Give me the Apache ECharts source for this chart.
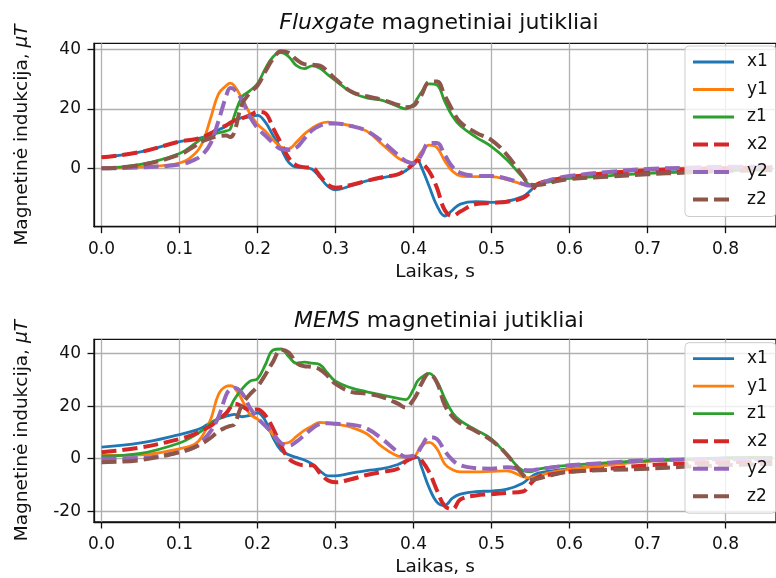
<!DOCTYPE html>
<html>
<head>
<meta charset="utf-8">
<script src="https://cdn.jsdelivr.net/npm/echarts@6/dist/echarts.min.js"></script>
<style>
  html, body { margin: 0; padding: 0; background: #fff; }
  #chart { width: 776px; height: 578px; }
</style>
</head>
<body>
<div id="chart"></div>
<script>
// Sample times, s
const times = [0, 0.05, 0.1, 0.12, 0.13, 0.14, 0.15, 0.16, 0.165, 0.17, 0.18, 0.19, 0.2,
  0.21, 0.22, 0.23, 0.24, 0.25, 0.26, 0.27, 0.28, 0.29, 0.3, 0.32, 0.34, 0.36, 0.38, 0.39, 0.4,
  0.405, 0.41, 0.42, 0.43, 0.44, 0.45, 0.46, 0.48, 0.5, 0.52, 0.54, 0.55, 0.56, 0.58, 0.6,
  0.65, 0.7, 0.75, 0.8, 0.86];

// Fluxgate sensors, µT
const fluxX1 = [3.7, 5.5, 9.0, 9.8, 10.4, 11.5, 12.9, 14.2, 15.2, 16.0, 17.0, 17.3, 17.8,
  15.5, 11.0, 6.7, 2.0, 0.4, 0.3, -0.3, -3.0, -6.0, -7.2, -5.8, -4.2, -3.2, -2.0, -0.8, 1.5,
  2.8, 0.5, -6.0, -12.5, -16.0, -14.0, -12.0, -11.2, -11.4, -11.0, -9.5, -7.5, -5.0, -3.8, -2.8,
  -1.5, -0.6, -0.2, 0, 0.2];
const fluxY1 = [0, 0.5, 1.8, 5.0, 9.0, 17.0, 25.0, 27.8, 28.6, 27.8, 23.5, 18.5, 14.8,
  12.5, 9.5, 7.2, 6.6, 8.8, 11.5, 13.5, 15.0, 15.5, 15.2, 14.3, 12.5, 8.0, 3.5, 2.2, 1.8,
  3.5, 5.5, 7.8, 7.0, 2.5, -1.0, -2.5, -2.8, -2.8, -3.8, -5.3, -5.9, -5.0, -3.6, -2.8,
  -1.4, -0.4, 0.1, 0.3, 0.5];
const fluxZ1 = [0, 1.3, 5.0, 8.4, 10.2, 11.3, 11.9, 12.6, 13.2, 17.5, 24.0, 26.0, 28.5,
  33.5, 37.5, 38.9, 37.5, 34.5, 33.5, 34.4, 33.6, 31.5, 29.5, 25.6, 23.7, 22.8, 20.8, 20.0, 21.5,
  23.5, 25.5, 28.4, 28.0, 22.5, 17.5, 14.3, 10.5, 7.3, 2.8, -3.0, -5.5, -5.3, -4.2, -3.4,
  -2.5, -1.7, -1.2, -0.8, -0.5];
const fluxX2 = [3.7, 5.5, 9.0, 9.8, 10.5, 11.8, 13.3, 14.5, 15.3, 16.0, 16.8, 17.8, 19.0,
  18.5, 13.5, 8.5, 3.5, 1.0, 0.4, 0.2, -2.5, -5.5, -6.5, -5.6, -4.2, -3.0, -2.0, -0.5, 1.5,
  2.6, 2.0, -1.0, -6.5, -14.0, -16.0, -14.5, -12.0, -11.6, -11.2, -10.0, -8.0, -5.2, -3.8, -2.9,
  -1.6, -0.7, -0.3, 0, 0.2];
const fluxY2 = [0, 0.3, 1.3, 3.0, 4.8, 8.5, 16.0, 24.5, 27.0, 26.5, 23.0, 17.5, 13.5,
  11.0, 8.5, 6.5, 6.2, 7.0, 10.0, 12.8, 14.3, 15.0, 15.1, 14.2, 12.6, 9.0, 4.5, 2.5, 1.7,
  2.5, 4.5, 8.5, 8.5, 4.5, 0.5, -1.5, -2.5, -2.6, -3.5, -5.2, -5.8, -5.2, -3.6, -2.6,
  -1.2, -0.2, 0.2, 0.5, 0.5];
const fluxZ2 = [0, 1.1, 4.6, 7.6, 9.2, 10.2, 10.8, 11.0, 10.5, 12.0, 21.5, 25.3, 27.8,
  32.5, 36.8, 39.3, 38.8, 36.5, 35.0, 34.8, 34.5, 32.5, 30.0, 25.8, 24.2, 23.0, 21.3, 20.5, 21.0,
  22.5, 24.5, 29.0, 29.2, 24.5, 19.5, 15.5, 12.0, 9.5, 4.5, -2.5, -5.5, -5.6, -4.5, -3.6,
  -2.8, -2.0, -1.4, -0.9, -0.6];

// MEMS sensors, µT
const memsX1 = [4.4, 6.0, 9.2, 10.8, 12.0, 13.8, 15.2, 16.2, 16.6, 16.9, 16.0, 16.5, 17.5,
  14.5, 8.0, 3.2, 1.5, 0.5, -0.5, -2.0, -4.6, -6.5, -6.5, -5.5, -4.5, -3.8, -2.2, -0.8, 0.2,
  0.5, -3.0, -11.0, -16.5, -17.8, -15.0, -13.5, -12.5, -12.3, -11.6, -9.3, -7.0, -5.5, -4.5, -3.8,
  -2.2, -0.8, -0.2, 0.3, 0.5];
const memsY1 = [1.3, 1.5, 3.8, 5.6, 9.0, 15.0, 24.5, 27.6, 27.8, 27.2, 22.5, 17.0, 15.1,
  12.5, 9.0, 5.8, 6.2, 8.5, 10.8, 12.5, 13.8, 13.6, 13.2, 12.0, 9.5, 4.5, 1.0, 0.6, 0.6,
  2.5, 5.0, 6.2, 3.8, -2.0, -4.2, -5.0, -5.0, -4.8, -4.6, -6.8, -7.3, -6.5, -5.0, -4.0,
  -2.4, -1.0, -0.3, 0.2, 0.4];
const memsZ1 = [1.0, 2.0, 6.0, 9.0, 11.0, 13.5, 15.3, 17.0, 19.5, 22.5, 26.5, 29.5, 30.5,
  35.8, 41.4, 41.8, 38.9, 36.4, 36.8, 36.4, 35.8, 32.6, 29.5, 27.0, 25.5, 24.2, 23.0, 22.5, 26.5,
  29.5, 31.0, 32.5, 29.5, 23.0, 17.5, 14.5, 11.0, 7.5, 1.5, -4.5, -5.0, -4.0, -3.0, -2.5,
  -1.5, -0.8, -0.2, 0.2, 0.4];
const memsX2 = [2.5, 4.3, 7.5, 9.5, 11.0, 12.5, 15.0, 17.5, 19.5, 21.0, 20.0, 18.5, 18.8,
  16.5, 11.5, 5.0, 0.0, -1.8, -2.5, -2.5, -5.5, -8.2, -9.0, -7.8, -6.2, -5.0, -3.8, -1.0, 0.5,
  0.8, -0.5, -5.0, -12.0, -18.0, -19.2, -15.5, -14.0, -13.5, -13.0, -12.5, -9.5, -7.0, -5.8, -5.0,
  -3.8, -2.5, -1.8, -1.3, -1.0];
const memsY2 = [0, 0.3, 2.5, 4.5, 7.0, 10.5, 16.0, 24.5, 26.5, 27.0, 25.0, 19.5, 15.5,
  12.5, 9.5, 6.0, 5.0, 6.5, 9.0, 11.5, 13.2, 13.5, 13.3, 13.0, 11.5, 7.5, 2.5, 0.8, 1.2,
  2.0, 4.5, 8.2, 7.5, 3.0, -0.5, -2.5, -3.6, -3.8, -3.2, -4.2, -4.4, -4.0, -3.2, -2.5,
  -1.5, -0.6, -0.3, -0.2, 0];
const memsZ2 = [-1.3, -0.5, 2.5, 4.5, 6.0, 8.0, 10.5, 12.0, 12.5, 13.0, 20.5, 24.5, 27.5,
  32.0, 37.0, 41.5, 40.5, 36.5, 35.2, 35.0, 34.0, 31.5, 28.5, 25.5, 24.8, 23.5, 21.0, 19.5, 22.5,
  25.0, 28.5, 32.5, 29.0, 20.5, 16.0, 13.5, 10.5, 7.0, 1.5, -6.0, -8.0, -7.5, -6.0, -5.0,
  -4.3, -3.8, -3.0, -2.5, -2.0];

const seriesNames = ['x1', 'y1', 'z1', 'x2', 'y2', 'z2'];
const seriesColors = ['#1f77b4', '#ff7f0e', '#2ca02c', '#d62728', '#9467bd', '#8c564b'];
const xTicks = [0, 0.1, 0.2, 0.3, 0.4, 0.5, 0.6, 0.7, 0.8];
const yTicksFlux = [-20, 0, 20, 40];
const yTicksMems = [-20, 0, 20, 40];
const titles = ['Fluxgate', 'MEMS'];

const FONT = 'DejaVu Sans';
const INK = '#111111';
const DASH = [15, 6];

function lineStyleOf(k) {
  const dashed = k >= 3;
  return {
    color: seriesColors[k],
    width: dashed ? 4 : 2.8,
    type: dashed ? DASH : 'solid',
    cap: 'butt'
  };
}

function makeSeries(arrays, gridIdx) {
  return arrays.map((vals, k) => ({
    name: seriesNames[k],
    type: 'line',
    xAxisIndex: gridIdx,
    yAxisIndex: gridIdx,
    data: times.map((t, i) => [t, vals[i]]),
    symbol: 'none',
    smooth: 0.4,
    clip: true,
    color: seriesColors[k],
    lineStyle: lineStyleOf(k),
    emphasis: { disabled: true }
  }));
}

function xAxisOf(gridIdx) {
  return {
    type: 'value', gridIndex: gridIdx,
    min: -0.0097, max: 0.8648,
    name: 'Laikas, s', nameLocation: 'middle', nameGap: 36,
    nameTextStyle: { fontFamily: FONT, fontSize: 18.5, color: INK },
    axisLine: { show: true, onZero: false, lineStyle: { color: INK, width: 1.3 } },
    axisTick: { show: true, inside: false, length: 6.5, lineStyle: { color: INK, width: 1.3 }, customValues: xTicks },
    axisLabel: { margin: 14, fontFamily: FONT, fontSize: 17, color: INK, customValues: xTicks,
      formatter: v => v.toFixed(1) },
    splitLine: { show: true, lineStyle: { color: '#b0b0b0', width: 1.3 } }
  };
}

function yAxisOf(gridIdx, min, max, ticks) {
  return {
    type: 'value', gridIndex: gridIdx, min: min, max: max,
    name: 'Magnetinė indukcija, {i|μT}', nameLocation: 'middle', nameRotate: 90, nameGap: 62,
    nameTextStyle: { fontFamily: FONT, fontSize: 18.5, color: INK,
      rich: { i: { fontFamily: FONT, fontSize: 18.5, fontStyle: 'italic', color: INK } } },
    axisLine: { show: true, onZero: false, lineStyle: { color: INK, width: 1.3 } },
    axisTick: { show: true, inside: false, length: 6.5, lineStyle: { color: INK, width: 1.3 }, customValues: ticks },
    axisLabel: { margin: 13, fontFamily: FONT, fontSize: 17, color: INK, customValues: ticks },
    splitLine: { show: true, lineStyle: { color: '#b0b0b0', width: 1.3 } }
  };
}

function legendOf(top) {
  return {
    orient: 'vertical', left: 685, top: top,
    data: seriesNames.map((n, k) => ({
      name: n,
      itemStyle: { opacity: 0 },
      lineStyle: lineStyleOf(k)
    })),
    itemWidth: 41, itemHeight: 14, itemGap: 7.5,
    padding: [6, 8, 7, 6],
    backgroundColor: 'rgba(255,255,255,0.8)',
    borderColor: '#cccccc', borderWidth: 1, borderRadius: 4,
    selectedMode: false,
    itemStyle: { opacity: 0 },
    textStyle: { fontFamily: FONT, fontSize: 17, color: INK, lineHeight: 20, padding: [0, 0, 0, 8] }
  };
}

function titleText(y, word) {
  return {
    type: 'text', x: 439, y: y, z: 10,
    style: {
      text: '{i|' + word + '} magnetiniai jutikliai',
      fontFamily: FONT, fontSize: 22, fill: INK,
      align: 'center', verticalAlign: 'middle',
      rich: { i: { fontFamily: FONT, fontSize: 22, fontStyle: 'italic', fill: INK } }
    }
  };
}

const chart = echarts.init(document.getElementById('chart'), null, { renderer: 'canvas' });
chart.setOption({
  animation: false,
  backgroundColor: '#ffffff',
  grid: [
    { left: 94, top: 43.3, width: 690, height: 183.4, show: true, borderColor: INK, borderWidth: 1.3, containLabel: false },
    { left: 94, top: 339.3, width: 690, height: 184.7, show: true, borderColor: INK, borderWidth: 1.3, containLabel: false }
  ],
  xAxis: [xAxisOf(0), xAxisOf(1)],
  yAxis: [yAxisOf(0, -19.6, 42.0, yTicksFlux), yAxisOf(1, -24.1, 45.5, yTicksMems)],
  legend: [legendOf(46), legendOf(342.7)],
  graphic: [titleText(23, titles[0]), titleText(321, titles[1])],
  series: makeSeries([fluxX1, fluxY1, fluxZ1, fluxX2, fluxY2, fluxZ2], 0)
    .concat(makeSeries([memsX1, memsY1, memsZ1, memsX2, memsY2, memsZ2], 1))
});
</script>
</body>
</html>
